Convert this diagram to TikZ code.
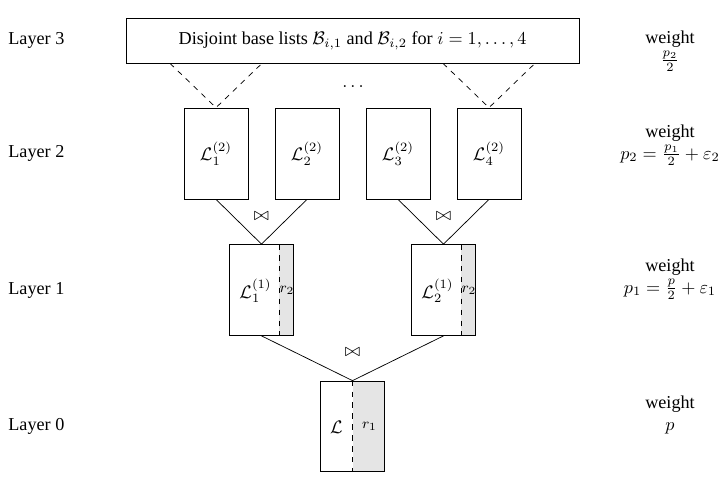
\documentclass[tikz,border=0pt]{standalone}
\usepackage{fontspec}
\setmainfont{Liberation Serif}
\usetikzlibrary{calc}
\newlength\unitpx
\setlength\unitpx{0.55pt}
\tikzset{
  lst/.style={draw,minimum width=64\unitpx,minimum height=91\unitpx,inner sep=0pt},
  halfgray/.style={path picture={\fill[gray!20] ($(path picture bounding box.north east)+(-#1,0)$) rectangle (path picture bounding box.south east);}},
  wt/.style={align=center,inner sep=0pt},
  lay/.style={anchor=west,inner sep=0pt}
}

\begin{document}
\begin{tikzpicture}[x=\unitpx,y=-\unitpx]
  \useasboundingbox (0,0) rectangle (722,478);
  % layer names and weights
  \foreach \l/\y in {3/40,2/153,1/290,0/426}
    \node[lay] (lay\l) at (8,\y) {Layer \l};
  \node[wt] (w3) at (670,51) {weight\\$\frac{p_2}{2}$};
  \node[wt] (w2) at (670,145) {weight\\$p_2=\frac{p_1}{2}+\varepsilon_2$};
  \node[wt] (w1) at (670,279) {weight\\$p_1=\frac{p}{2}+\varepsilon_1$};
  \node[wt] (w0) at (670,415) {weight\\$p$};
  % layer 3
  \node[draw,minimum width=453\unitpx,minimum height=45\unitpx] (base) at (352.5,40.5)
    {Disjoint base lists $\mathcal{B}_{i,1}$ and $\mathcal{B}_{i,2}$ for $i=1,\dots,4$};
  \node (dots) at (353,87) {$\dots$};
  % layer 2
  \foreach \i/\x in {1/216,2/307,3/398,4/489}
    \node[lst] (L2\i) at (\x,153.5) {$\mathcal{L}_\i^{(2)}$};
  \foreach \i in {1,4} {
    \coordinate (a\i) at ($(L2\i.north)+(-46,0)$);
    \coordinate (b\i) at ($(L2\i.north)+(46,0)$);
    \draw[dashed] (a\i |- base.south) -- (L2\i.north) -- (b\i |- base.south);
  }
  % layer 1
  \node[lst,halfgray=15] (L11) at (261.5,290) {};
  \node[lst,halfgray=15] (L12) at (443.5,290) {};
  \foreach \j in {1,2} {
    \draw[dashed] ($(L1\j.north east)+(-15,0)$) -- ($(L1\j.south east)+(-15,0)$);
    \node (ll\j) at ($(L1\j.center)+(-6,1)$) {$\mathcal{L}_\j^{(1)}$};
    \node[font=\footnotesize] (r2\j) at ($(L1\j.east)+(-7,0)$) {$r_2$};
  }
  \draw (L21.south) -- (L11.north) -- (L22.south);
  \draw (L23.south) -- (L12.north) -- (L24.south);
  \node (j1) at (261.5,216) {$\bowtie$};
  \node (j2) at (443.5,216) {$\bowtie$};
  % layer 0
  \node[lst,halfgray=32,minimum height=90\unitpx] (L0) at (352.5,426) {};
  \draw[dashed] (L0.north) -- (L0.south);
  \node (l0) at ($(L0.center)+(-16,1)$) {$\mathcal{L}$};
  \node[font=\footnotesize] (r1) at ($(L0.center)+(17,0)$) {$r_1$};
  \draw (L11.south) -- (L0.north) -- (L12.south);
  \node (j0) at (352.5,352) {$\bowtie$};
\end{tikzpicture}
\end{document}
